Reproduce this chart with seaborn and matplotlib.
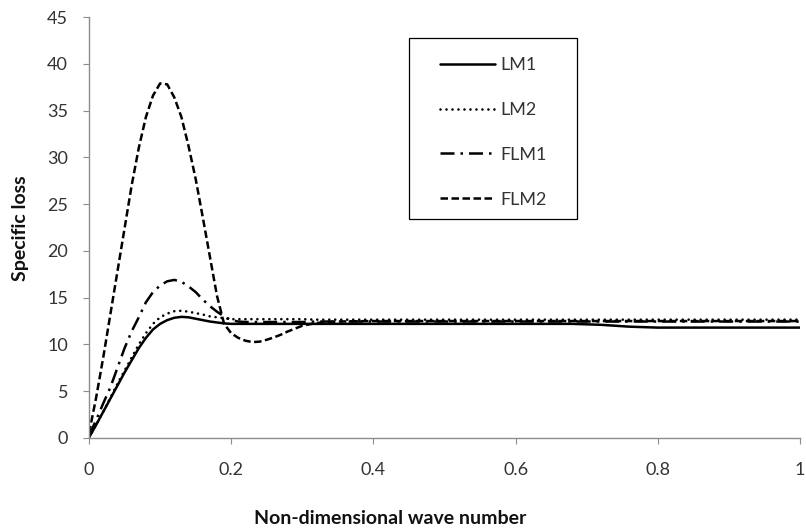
import matplotlib
matplotlib.use("Agg")
import matplotlib.pyplot as plt
from matplotlib.patches import Rectangle
import seaborn as sns

# ---- data ----
x_vals = [0.00, 0.01, 0.02, 0.03, 0.04, 0.05, 0.06, 0.07, 0.08, 0.09,
          0.10, 0.11, 0.12, 0.13, 0.14, 0.15, 0.16, 0.17, 0.18, 0.19,
          0.20, 0.21, 0.22, 0.23, 0.24, 0.25, 0.26, 0.27, 0.28, 0.29,
          0.30, 0.32, 0.35, 0.40, 0.50, 0.60, 0.68, 0.70, 0.72, 0.74,
          0.76, 0.78, 0.80, 0.85, 0.90, 1.00]

lm1 = [0.05, 1.4, 2.8, 4.2, 5.6, 7.0, 8.3, 9.6, 10.7, 11.6,
       12.2, 12.6, 12.85, 12.95, 12.9, 12.75, 12.6, 12.45, 12.35, 12.25,
       12.2, 12.2, 12.2, 12.2, 12.2, 12.2, 12.2, 12.2, 12.2, 12.2,
       12.2, 12.2, 12.2, 12.2, 12.2, 12.2, 12.2, 12.15, 12.1, 12.0,
       11.9, 11.85, 11.8, 11.8, 11.8, 11.8]

lm2 = [0.05, 1.4, 2.8, 4.3, 5.8, 7.2, 8.6, 10.0, 11.2, 12.2,
       12.9, 13.3, 13.55, 13.6, 13.5, 13.35, 13.2, 13.0, 12.9, 12.8,
       12.7, 12.7, 12.7, 12.7, 12.7, 12.7, 12.7, 12.7, 12.7, 12.7,
       12.7, 12.65, 12.65, 12.65, 12.65, 12.65, 12.65, 12.65, 12.65, 12.65,
       12.65, 12.65, 12.65, 12.65, 12.65, 12.65]

flm1 = [0.3, 1.9, 3.7, 5.4, 7.5, 9.6, 11.4, 12.9, 14.5, 15.6,
        16.3, 16.75, 16.9, 16.7, 16.2, 15.6, 14.8, 14.1, 13.5, 13.0,
        12.6, 12.45, 12.4, 12.4, 12.4, 12.4, 12.4, 12.4, 12.4, 12.4,
        12.4, 12.45, 12.45, 12.45, 12.45, 12.45, 12.45, 12.45, 12.45, 12.45,
        12.45, 12.45, 12.45, 12.45, 12.45, 12.45]

flm2 = [0.5, 4.3, 8.6, 13.2, 17.8, 22.4, 27.0, 31.0, 34.3, 36.6,
        37.9, 37.8, 36.4, 34.3, 31.2, 27.7, 23.6, 19.4, 15.2, 12.2,
        11.2, 10.7, 10.4, 10.25, 10.3, 10.5, 10.75, 11.05, 11.4, 11.7,
        12.0, 12.3, 12.45, 12.5, 12.5, 12.5, 12.5, 12.5, 12.5, 12.5,
        12.5, 12.5, 12.5, 12.5, 12.5, 12.5]

series_names = ["LM1", "LM2", "FLM1", "FLM2"]
x_ticks = [0, 0.2, 0.4, 0.6, 0.8, 1.0]
x_tick_labels = ["0", "0.2", "0.4", "0.6", "0.8", "1"]
y_ticks = [0, 5, 10, 15, 20, 25, 30, 35, 40, 45]
y_tick_labels = ["0", "5", "10", "15", "20", "25", "30", "35", "40", "45"]
x_label = "Non-dimensional wave number"
y_label = "Specific loss"

# ---- styling ----
sns.set_theme(style="white")
plt.rcParams["font.family"] = ["Lato", "DejaVu Sans"]

W, H = 806, 530
fig = plt.figure(figsize=(W / 100, H / 100), dpi=100)
ax = fig.add_axes([89 / W, 92 / H, 711 / W, 421 / H])

styles = {
    "LM1": dict(lw=1.8, linestyle="-"),
    "LM2": dict(lw=1.9, linestyle=(0, (0.01, 2.26)), dash_capstyle="round"),
    "FLM1": dict(lw=1.8, linestyle=(0, (5.6, 2.4, 1.0, 2.4))),
    "FLM2": dict(lw=1.8, linestyle=(0, (3.0, 1.4))),
}
data = {"LM1": lm1, "LM2": lm2, "FLM1": flm1, "FLM2": flm2}

for name in series_names:
    sns.lineplot(x=x_vals, y=data[name], ax=ax, color="black",
                 label=name, estimator=None, sort=False, **styles[name])

ax.set_xlim(0, 1)
ax.set_ylim(0, 45)
ax.set_xticks(x_ticks)
ax.set_xticklabels(x_tick_labels)
ax.set_yticks(y_ticks)
ax.set_yticklabels(y_tick_labels)
ax.set_xlabel("")
ax.set_ylabel("")

spine_col = "#8c8c8c"
for s in ["top", "right"]:
    ax.spines[s].set_visible(False)
for s in ["left", "bottom"]:
    ax.spines[s].set_color(spine_col)
    ax.spines[s].set_linewidth(1.0)
ax.tick_params(axis="x", which="major", direction="out", length=4.3,
               width=0.8, color=spine_col, pad=13, labelsize=13,
               labelcolor="#333333", bottom=True)
ax.tick_params(axis="y", which="major", direction="out", length=4.3,
               width=0.8, color=spine_col, pad=10.8, labelsize=13,
               labelcolor="#333333", left=True)
ax.grid(False)

fig.text(390 / W, (H - 518) / H, x_label, ha="center", va="center",
         fontsize=14, fontweight="bold", color="#111111")
fig.text(21 / W, (H - 228) / H, y_label, ha="center", va="center",
         rotation=90, fontsize=14, fontweight="bold", color="#111111")

leg = ax.legend(loc="upper left", bbox_to_anchor=(440 / W, (H - 57) / H),
                bbox_transform=fig.transFigure, frameon=False, borderpad=0,
                borderaxespad=0, handlelength=3.05, handletextpad=0.28,
                labelspacing=1.6, fontsize=13)
for t in leg.get_texts():
    t.set_color("#333333")

fig.add_artist(Rectangle((409 / W, (H - 219) / H), 168 / W, 181 / H,
                         transform=fig.transFigure, fill=False,
                         edgecolor="black", lw=0.9))

fig.savefig("out.png", dpi=100)
